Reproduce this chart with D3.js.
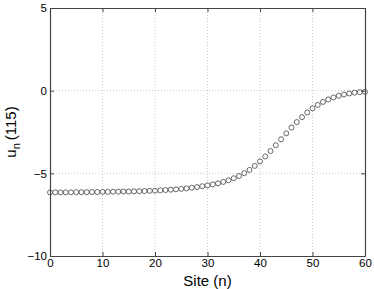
<!DOCTYPE html>
<html>
<head>
<meta charset="utf-8">
<script src="https://cdn.jsdelivr.net/npm/d3@7"></script>
<style>
  body { margin: 0; background: #fff; }
  text { font-family: "Liberation Sans", Arial, sans-serif; }
</style>
</head>
<body>
<div id="chart"></div>
<script>
// u_n(115) against site index, MATLAB style

var W = 374, H = 289;
var margin = { left: 50, top: 8, right: 9, bottom: 33 };

var sites = d3.range(0, 61); // 0..60
var values = [
  -6.15, -6.15, -6.15, -6.15, -6.15, -6.14, -6.14, -6.14, -6.13, -6.13,
  -6.12, -6.12, -6.11, -6.11, -6.10, -6.10, -6.09, -6.08, -6.07, -6.06,
  -6.05, -6.03, -6.01, -5.99, -5.97, -5.94, -5.91, -5.87, -5.83, -5.78,
  -5.73, -5.67, -5.60, -5.52, -5.42, -5.30, -5.16, -4.99, -4.79, -4.55,
  -4.28, -3.98, -3.65, -3.30, -2.94, -2.58, -2.23, -1.90, -1.60, -1.32,
  -1.07, -0.86, -0.68, -0.53, -0.41, -0.31, -0.23, -0.17, -0.12, -0.09,
  -0.07
];
var xTicks = [0, 10, 20, 30, 40, 50, 60];
var yTicks = [-10, -5, 0, 5];

var svg = d3.select('#chart').append('svg')
  .attr('width', W)
  .attr('height', H);

var x = d3.scaleLinear().domain([0, 60]).range([margin.left, W - margin.right]);
var y = d3.scaleLinear().domain([-10, 5]).range([H - margin.bottom, margin.top]);

var x0 = x.range()[0], x1 = x.range()[1];
var y0 = y.range()[0], y1 = y.range()[1];

// grid
svg.append('g').selectAll('line')
  .data(xTicks.slice(1, -1))
  .enter().append('line')
  .attr('x1', function(d) { return x(d); })
  .attr('x2', function(d) { return x(d); })
  .attr('y1', y0).attr('y2', y1)
  .attr('stroke', '#c8c8c8')
  .attr('stroke-width', 1)
  .attr('stroke-dasharray', '1,2');

svg.append('g').selectAll('line')
  .data(yTicks.slice(1, -1))
  .enter().append('line')
  .attr('y1', function(d) { return y(d); })
  .attr('y2', function(d) { return y(d); })
  .attr('x1', x0).attr('x2', x1)
  .attr('stroke', '#c8c8c8')
  .attr('stroke-width', 1)
  .attr('stroke-dasharray', '1,2');

// axes (ticks inside, mirrored)
var tickLen = 4;
var axBottom = svg.append('g')
  .attr('transform', 'translate(0,' + y0 + ')')
  .call(d3.axisBottom(x).tickValues(xTicks).tickSizeInner(-tickLen).tickSizeOuter(0).tickPadding(3));
var axTop = svg.append('g')
  .attr('transform', 'translate(0,' + y1 + ')')
  .call(d3.axisTop(x).tickValues(xTicks).tickSizeInner(-tickLen).tickSizeOuter(0).tickFormat(''));
var axLeft = svg.append('g')
  .attr('transform', 'translate(' + x0 + ',0)')
  .call(d3.axisLeft(y).tickValues(yTicks).tickSizeInner(-tickLen).tickSizeOuter(0).tickPadding(3)
    .tickFormat(function(d) { return d < 0 ? '\u2212' + Math.abs(d) : d; }));
var axRight = svg.append('g')
  .attr('transform', 'translate(' + x1 + ',0)')
  .call(d3.axisRight(y).tickValues(yTicks).tickSizeInner(-tickLen).tickSizeOuter(0).tickFormat(''));

[axBottom, axTop, axLeft, axRight].forEach(function(g) {
  g.select('.domain').attr('stroke', '#444').attr('stroke-width', 1.2);
  g.selectAll('.tick line').attr('stroke', '#444');
  g.selectAll('.tick text')
    .attr('fill', '#000')
    .style('font-size', '11.5px')
    .style('font-family', '"Liberation Sans", Arial, sans-serif');
});

// data markers
svg.append('g').selectAll('circle')
  .data(sites)
  .enter().append('circle')
  .attr('cx', function(d) { return x(d); })
  .attr('cy', function(d, i) { return y(values[i]); })
  .attr('r', 2.5)
  .attr('fill', 'none')
  .attr('stroke', '#444')
  .attr('stroke-width', 0.8);

// labels
svg.append('text')
  .attr('x', (x0 + x1) / 2)
  .attr('y', H - 3)
  .attr('text-anchor', 'middle')
  .style('font-size', '15px')
  .text('Site (n)');

var yl = svg.append('text')
  .attr('transform', 'translate(16,' + ((y0 + y1) / 2) + ') rotate(-90)')
  .attr('text-anchor', 'middle')
  .style('font-size', '15px');
yl.append('tspan').text('u');
yl.append('tspan').attr('dy', 4).style('font-size', '11px').text('n');
yl.append('tspan').attr('dy', -4).attr('dx', 3).text('(115)');
</script>
</body>
</html>
